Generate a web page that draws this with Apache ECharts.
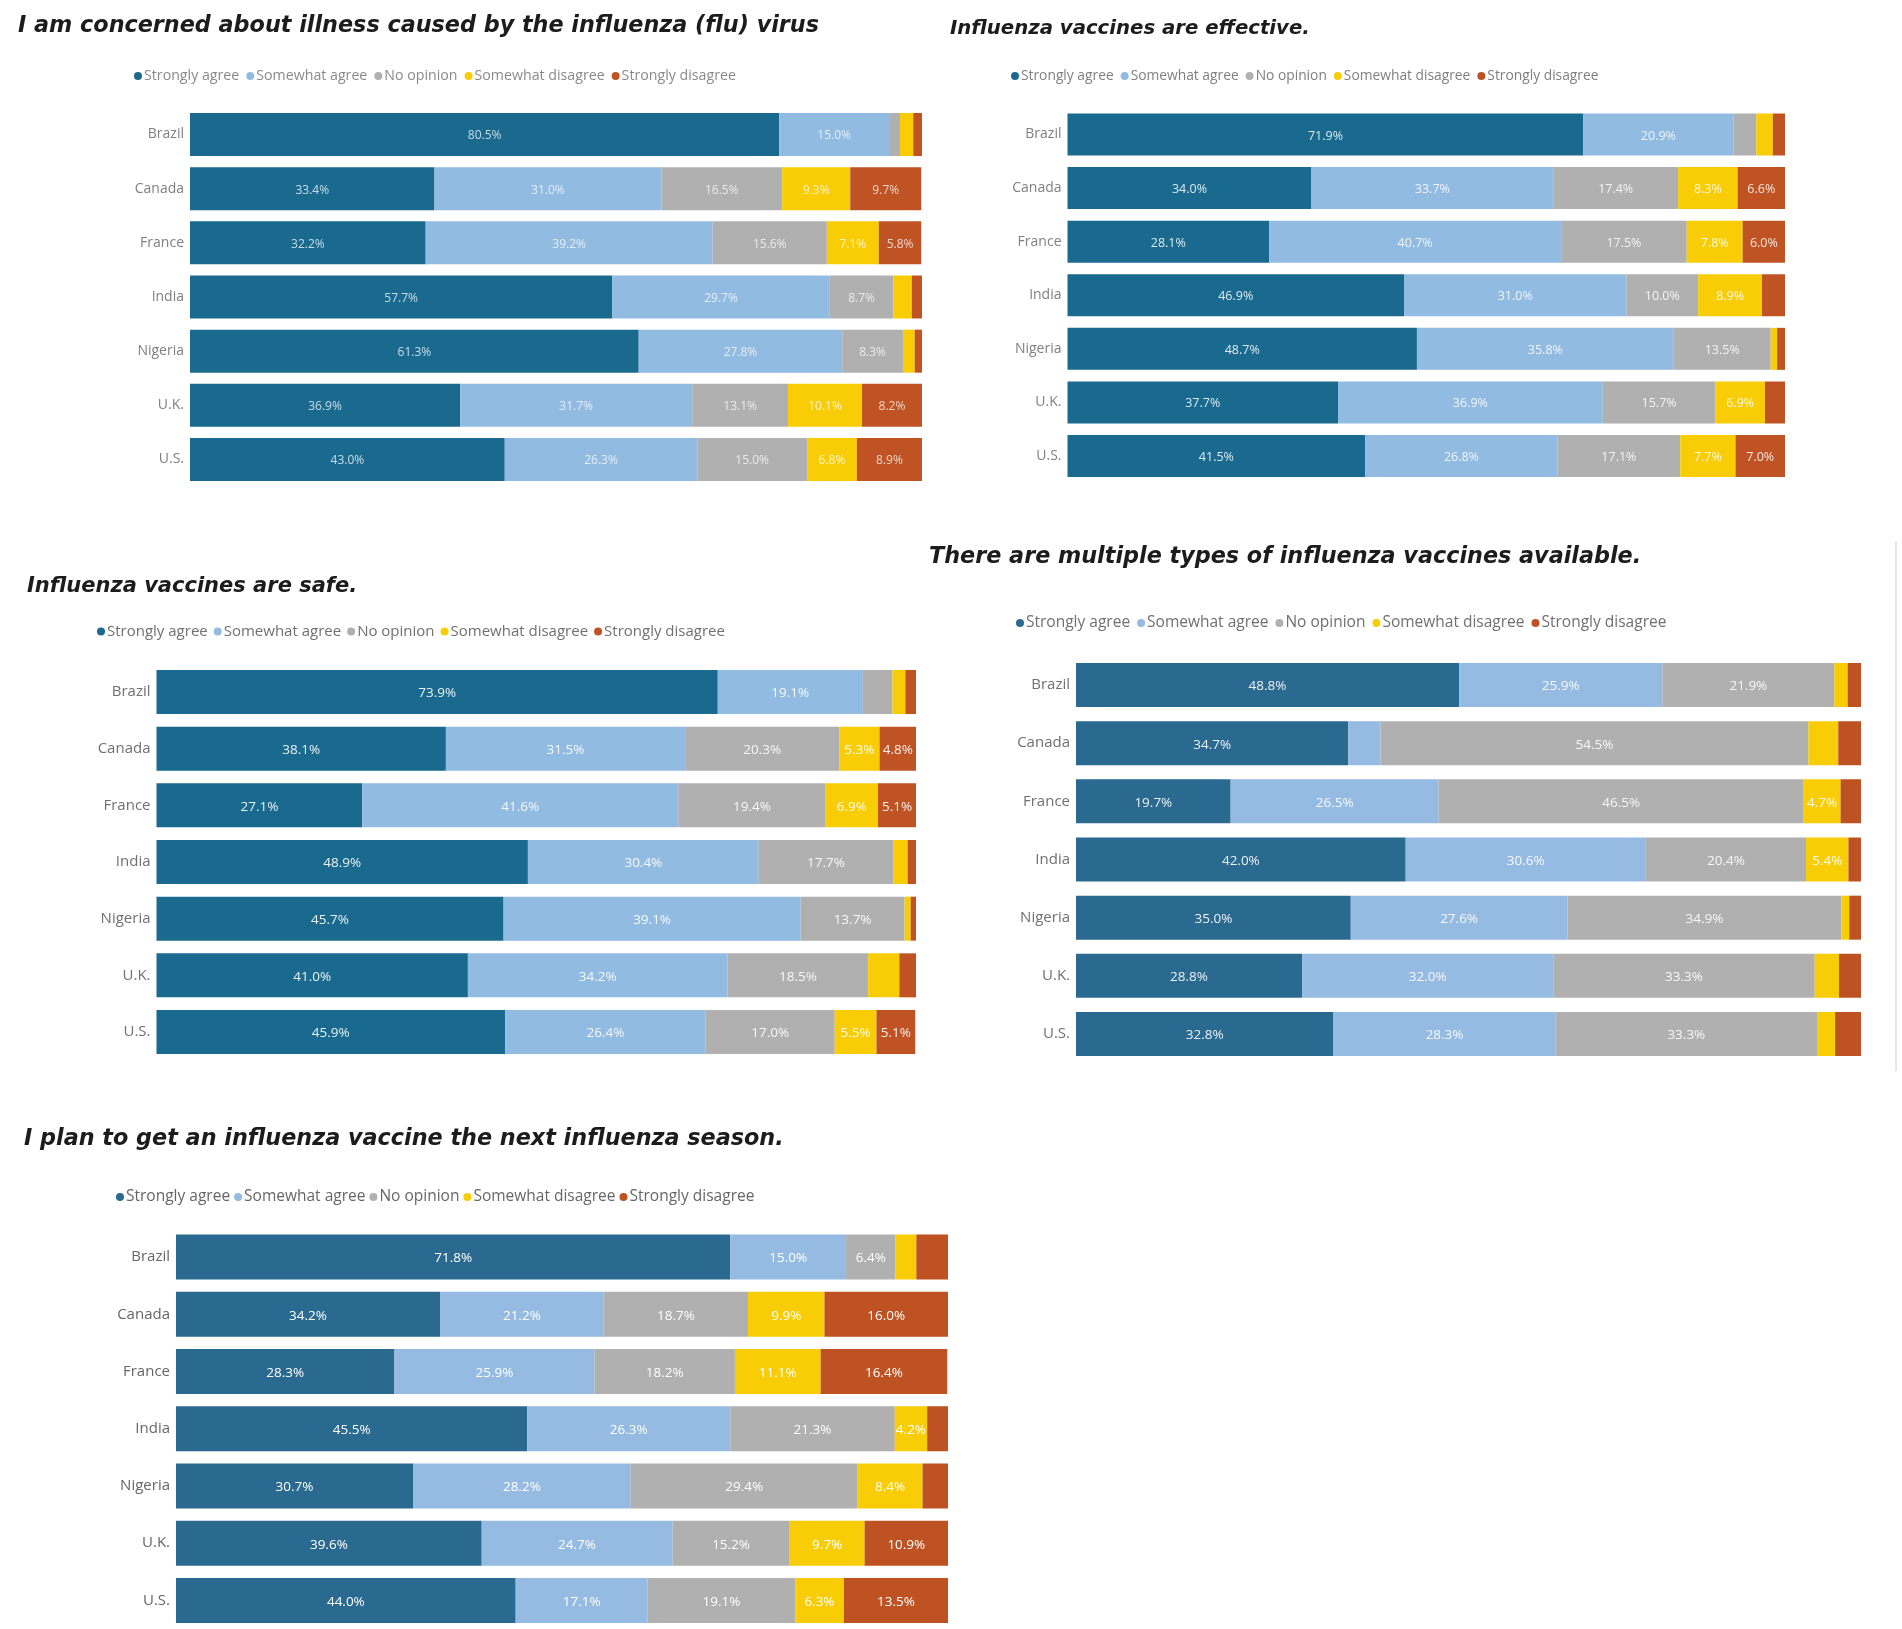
<!DOCTYPE html>
<html><head><meta charset="utf-8">
<style>html,body{margin:0;padding:0;background:#fff}#c{width:1902px;height:1629px}</style>
<script src="https://cdn.jsdelivr.net/npm/echarts@6/dist/echarts.min.js"></script>
</head><body><div id="c"></div>
<script>
const categories = ['Brazil','Canada','France','India','Nigeria','U.K.','U.S.'];
const seriesNames = ['Strongly agree','Somewhat agree','No opinion','Somewhat disagree','Strongly disagree'];

const concernedTitle = 'I am concerned about illness caused by the influenza (flu) virus';
const concernedValues = [
  [80.5,33.4,32.2,57.7,61.3,36.9,43.0],
  [15.0,31.0,39.2,29.7,27.8,31.7,26.3],
  [1.5,16.5,15.6,8.7,8.3,13.1,15.0],
  [1.8,9.3,7.1,2.5,1.6,10.1,6.8],
  [1.2,9.7,5.8,1.4,1.0,8.2,8.9]
];
const effectiveTitle = 'Influenza vaccines are effective.';
const effectiveValues = [
  [71.9,34.0,28.1,46.9,48.7,37.7,41.5],
  [20.9,33.7,40.7,31.0,35.8,36.9,26.8],
  [3.2,17.4,17.5,10.0,13.5,15.7,17.1],
  [2.3,8.3,7.8,8.9,0.9,6.9,7.7],
  [1.7,6.6,6.0,3.2,1.1,2.8,7.0]
];
const safeTitle = 'Influenza vaccines are safe.';
const safeValues = [
  [73.9,38.1,27.1,48.9,45.7,41.0,45.9],
  [19.1,31.5,41.6,30.4,39.1,34.2,26.4],
  [3.9,20.3,19.4,17.7,13.7,18.5,17.0],
  [1.7,5.3,6.9,1.9,0.8,4.1,5.5],
  [1.4,4.8,5.1,1.1,0.7,2.2,5.1]
];
const typesTitle = 'There are multiple types of influenza vaccines available.';
const typesValues = [
  [48.8,34.7,19.7,42.0,35.0,28.8,32.8],
  [25.9,4.1,26.5,30.6,27.6,32.0,28.3],
  [21.9,54.5,46.5,20.4,34.9,33.3,33.3],
  [1.7,3.8,4.7,5.4,1.0,3.1,2.3],
  [1.7,2.9,2.6,1.6,1.5,2.8,3.3]
];
const planTitle = 'I plan to get an influenza vaccine the next influenza season.';
const planValues = [
  [71.8,34.2,28.3,45.5,30.7,39.6,44.0],
  [15.0,21.2,25.9,26.3,28.2,24.7,17.1],
  [6.4,18.7,18.2,21.3,29.4,15.2,19.1],
  [2.7,9.9,11.1,4.2,8.4,9.7,6.3],
  [4.1,16.0,16.4,2.7,3.3,10.9,13.5]
];

const paletteA = ['#1A6A8F','#92BBE2','#B0B0B1','#F9CD06','#BF5324'];
const paletteB = ['#2A6A90','#95BBE3','#B0B0B1','#F9CD06','#BE5222'];
const labelMinimum = 4.2;

const panels = [
  {title:concernedTitle,values:concernedValues,colors:paletteA,left:190,right:922,firstTop:113,lastTop:438,bar:43,titleX:18,titleY:15,titleSize:22.3,legX:134,legY:69,legSize:14.2,legGap:7,legColor:'#8a8a8a',axisSize:14,axisColor:'#808080',labelSize:12,labelOpacity:.75},
  {title:effectiveTitle,values:effectiveValues,colors:paletteA,left:1067.5,right:1785,firstTop:113.5,lastTop:435,bar:42,titleX:950,titleY:19,titleSize:19.7,legX:1011,legY:69,legSize:13.8,legGap:7,legColor:'#808080',axisSize:14,axisColor:'#808080',labelSize:12.5,labelOpacity:.85},
  {title:safeTitle,values:safeValues,colors:paletteA,left:156.5,right:916,firstTop:670,lastTop:1010,bar:44,titleX:27,titleY:576,titleSize:21,legX:97,legY:624,legSize:15,legGap:6,legColor:'#707070',axisSize:15,axisColor:'#707070',labelSize:13.5,labelOpacity:.9},
  {title:typesTitle,values:typesValues,colors:paletteB,left:1076,right:1861,firstTop:663,lastTop:1012,bar:44,titleX:929,titleY:546,titleSize:22.3,legX:1016,legY:615,legSize:15.5,legGap:7,legColor:'#707070',axisSize:15,axisColor:'#707070',labelSize:13.5,labelOpacity:.9},
  {title:planTitle,values:planValues,colors:paletteB,left:176,right:948,firstTop:1235,lastTop:1583,bar:45,titleX:24,titleY:1128,titleSize:22.3,legX:116,legY:1189,legSize:15.5,legGap:4,legColor:'#666',axisSize:15,axisColor:'#666',labelSize:13.5,labelOpacity:1}
];

const title=[],legend=[],grid=[],xAxis=[],yAxis=[],series=[];
panels.forEach((p,i)=>{
  const step=(p.lastTop-p.firstTop)/6;
  title.push({text:p.title,left:p.titleX,top:p.titleY,padding:0,textStyle:{fontFamily:'"DejaVu Sans"',fontStyle:'italic',fontWeight:'bold',fontSize:p.titleSize,color:'#1c1c1c'}});
  grid.push({left:p.left,width:p.right-p.left,top:p.firstTop-(step-p.bar)/2,height:step*7});
  xAxis.push({gridIndex:i,type:'value',min:0,max:100,show:false});
  yAxis.push({gridIndex:i,type:'category',inverse:true,data:categories,axisLine:{show:false},axisTick:{show:false},axisLabel:{margin:6,padding:[5,0,0,0],fontFamily:'"Open Sans"',fontSize:p.axisSize,color:p.axisColor}});
  legend.push({left:p.legX,top:p.legY,padding:0,icon:'circle',itemWidth:8,itemHeight:8,itemGap:p.legGap,selectedMode:false,data:seriesNames.map((n,k)=>({name:n,itemStyle:{color:p.colors[k]}})),textStyle:{fontFamily:'"Open Sans"',fontSize:p.legSize,color:p.legColor,padding:[0,0,0,-3]}});
  seriesNames.forEach((name,k)=>{
    series.push({type:'bar',name,xAxisIndex:i,yAxisIndex:i,stack:'p'+i,barWidth:p.bar,data:p.values[k],
      itemStyle:{color:p.colors[k]},
      label:{show:true,position:'inside',offset:[0,1.5],fontFamily:'"Open Sans"',fontSize:p.labelSize,color:'#fff',opacity:p.labelOpacity,
        formatter:d=>d.value>=labelMinimum?d.value.toFixed(1)+'%':''},
      emphasis:{disabled:true}});
  });
});
const chart=echarts.init(document.getElementById('c'),null,{renderer:'canvas'});
chart.setOption({animation:false,backgroundColor:'#fff',title,legend,grid,xAxis,yAxis,series,
  graphic:[{type:'line',shape:{x1:1896,y1:541,x2:1896,y2:1071},style:{stroke:'#e6e6e6',lineWidth:2},silent:true}]});
</script></body></html>
